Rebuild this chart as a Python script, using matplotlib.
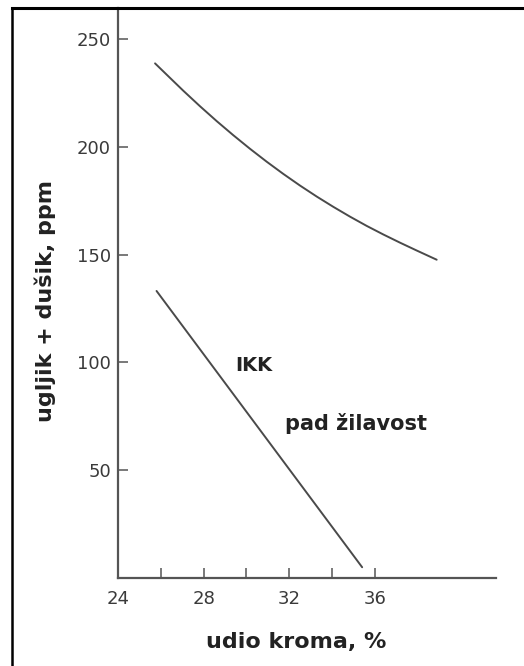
import matplotlib
matplotlib.use('Agg')
import matplotlib.pyplot as plt
from matplotlib.lines import Line2D

# Gornja krivulja (ugljik + dušik za IKK granicu)
x_upper = [25.73, 26.27, 27.05, 27.83, 28.61, 29.38, 30.16, 30.94, 31.72,
           32.50, 33.28, 34.06, 34.83, 35.61, 36.39, 37.17, 37.94, 38.88]
y_upper = [238.7, 233.5, 226.0, 218.8, 211.9, 205.4, 199.1, 193.1, 187.4,
           182.0, 176.9, 172.1, 167.6, 163.3, 159.3, 155.5, 151.9, 147.6]

# Donja linija (pad žilavosti)
x_lower = [25.8, 35.4]
y_lower = [133.1, 4.9]

x_major = [24, 28, 32, 36]
x_minor = [26, 30, 34]
y_ticks = [50, 100, 150, 200, 250]

W, H = 524, 666
fig = plt.figure(figsize=(W / 100, H / 100), dpi=100)
fig.patch.set_facecolor('white')

ax = fig.add_axes([118 / W, 1 - 577.8 / H, (496 - 118) / W, (577.8 - 8) / H])

line_color = '#4a4a4a'
ax.plot(x_upper, y_upper, color=line_color, lw=1.4, solid_capstyle='round',
        solid_joinstyle='round')
ax.plot(x_lower, y_lower, color=line_color, lw=1.4, solid_capstyle='round')

ax.set_xlim(24, 41.65)
ax.set_ylim(0, 264.4)

for side in ['top', 'right']:
    ax.spines[side].set_visible(False)
for side in ['left', 'bottom']:
    ax.spines[side].set_color('#555555')
    ax.spines[side].set_linewidth(1.6)

ax.set_xticks(x_major)
ax.set_xticks(x_minor, minor=True)
ax.set_yticks(y_ticks)
ax.tick_params(axis='both', which='both', direction='in', length=7,
               width=1.1, color='#555555', labelcolor='#3a3a3a',
               labelsize=13)
ax.tick_params(axis='x', pad=9)
ax.tick_params(axis='y', pad=5)

# tekst u grafu
ax.text(30.35, 98.3, 'IKK', fontsize=14, fontweight='bold', color='#222222',
        ha='center', va='center')
ax.text(35.1, 71.5, 'pad žilavost', fontsize=15, fontweight='bold',
        color='#222222', ha='center', va='center')

fig.text(45 / W, 1 - 301 / H, 'ugljik + dušik, ppm', rotation=90,
         fontsize=16, fontweight='bold', color='#222222',
         ha='center', va='center')
fig.text(296 / W, 1 - 642 / H, 'udio kroma, %', fontsize=16,
         fontweight='bold', color='#222222', ha='center', va='center')

# okvir slike (lijevo i gore)
fig.add_artist(Line2D([12 / W, 12 / W], [0, 1 - 8 / H], color='black',
                      lw=1.8, transform=fig.transFigure))
fig.add_artist(Line2D([12 / W, 1], [1 - 8 / H, 1 - 8 / H], color='black',
                      lw=2.2, transform=fig.transFigure))

fig.savefig('out.png', dpi=100)
